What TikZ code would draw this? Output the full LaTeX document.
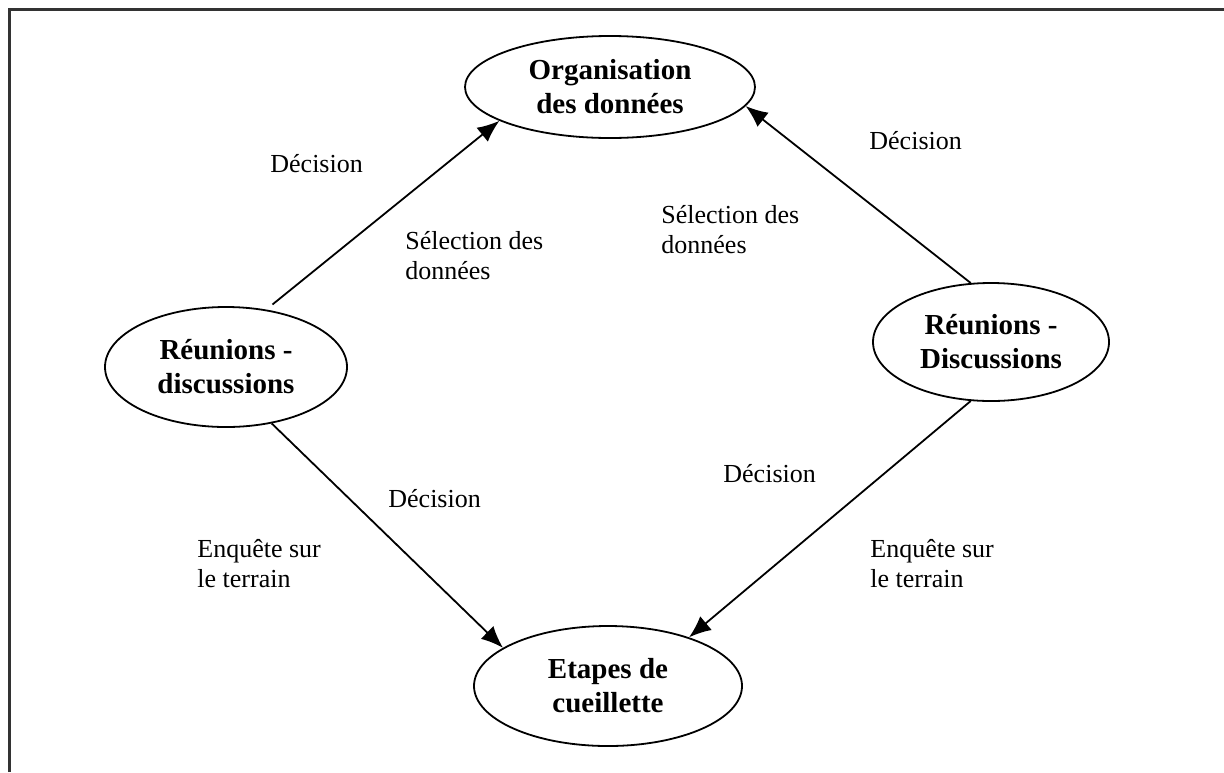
\documentclass[tikz,border=0pt]{standalone}
\usepackage{fontspec}
\setmainfont{Liberation Serif}
\usetikzlibrary{shapes.geometric,arrows.meta}
\tikzset{
  bubble/.style={ellipse, draw=black, line width=0.9pt, inner sep=0pt, align=center,
    font=\fontsize{14.5}{17}\selectfont\bfseries},
  lbl/.style={inner sep=0pt, anchor=west, align=left, font=\fontsize{13}{15}\selectfont},
  conn/.style={line width=0.9pt, -{Latex[length=11pt,width=9pt]}},
  frame/.style={line width=1.5pt, draw=black!80}
}
\begin{document}
\begin{tikzpicture}[x=0.5pt,y=-0.5pt]
\useasboundingbox (0,0) rectangle (1224,772);
\draw[frame] (9,772) -- (9,9) -- (1224,9);
\node[bubble, minimum width=145pt, minimum height=51pt] (T) at (610,87) {Organisation\\des données};
\node[bubble, minimum width=121pt, minimum height=60pt] (L) at (226,367) {Réunions -\\discussions};
\node[bubble, minimum width=118pt, minimum height=59pt] (R) at (991,342) {Réunions -\\Discussions};
\node[bubble, minimum width=134pt, minimum height=60pt] (B) at (608,686) {Etapes de\\cueillette};
\draw[conn, shorten <=4pt] (L.55) -- (T.197);
\draw[conn] (R.109) -- (T.-8);
\draw[conn] (L.-51) -- (B.160);
\draw[conn] (R.-109) -- (B.31);
\node[lbl] (d1) at (270,164) {Décision};
\node[lbl] (s1) at (405,256) {Sélection des\\données};
\node[lbl] (d2) at (869,141) {Décision};
\node[lbl] (s2) at (661,230) {Sélection des\\données};
\node[lbl] (d3) at (388,499) {Décision};
\node[lbl] (e1) at (197,564) {Enquête sur\\le terrain};
\node[lbl] (d4) at (723,474) {Décision};
\node[lbl] (e2) at (870,564) {Enquête sur\\le terrain};
\end{tikzpicture}
\end{document}
